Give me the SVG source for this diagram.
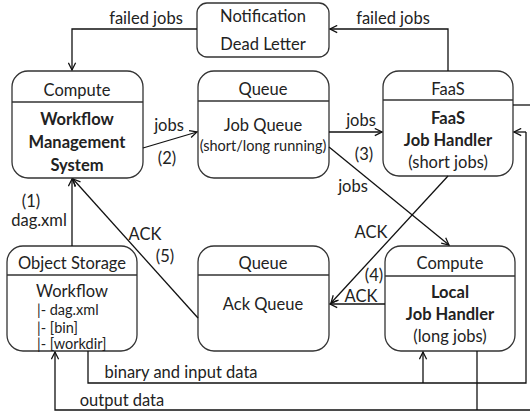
<svg xmlns="http://www.w3.org/2000/svg" width="530" height="415" viewBox="0 0 530 415">
<style>
.box{fill:#fff;stroke:#333;stroke-width:1.3}
.div{stroke:#333;stroke-width:1.3}
.ln{fill:none;stroke:#111;stroke-width:1.3;marker-end:url(#ah)}
.pl{fill:none;stroke:#111;stroke-width:1.3}
text{font-family:Lato,"Liberation Sans",sans-serif;font-size:16.5px;fill:#222;text-anchor:middle}
.b{font-weight:bold}
.s{font-size:14.5px}
.l{text-anchor:start}
</style>
<defs>
<marker id="ah" viewBox="0 0 10 10" refX="9" refY="5" markerWidth="9" markerHeight="9" markerUnits="userSpaceOnUse" orient="auto">
<path d="M1,1 L9,5 L1,9" fill="none" stroke="#111" stroke-width="1.4"/>
</marker>
</defs>
<g id="notification">
<rect class="box" x="197" y="3" width="132" height="54" rx="10"/>
<text x="263" y="22">Notification</text>
<text x="263" y="50">Dead Letter</text>
</g>
<g id="wms">
<rect class="box" x="12" y="71" width="131" height="107" rx="16"/>
<line class="div" x1="12" y1="102" x2="143" y2="102"/>
<text x="77" y="96">Compute</text>
<text class="b" x="77" y="125">Workflow</text>
<text class="b" x="77" y="148">Management</text>
<text class="b" x="77" y="171">System</text>
</g>
<g id="jobqueue">
<rect class="box" x="198" y="71" width="131" height="107" rx="16"/>
<line class="div" x1="198" y1="101" x2="329" y2="101"/>
<text x="263" y="95">Queue</text>
<text x="263" y="131">Job Queue</text>
<text class="s" x="263" y="151">(short/long running)</text>
</g>
<g id="faas">
<rect class="box" x="383" y="71" width="130" height="105" rx="16"/>
<line class="div" x1="383" y1="100" x2="513" y2="100"/>
<text x="448" y="95">FaaS</text>
<text class="b" x="448" y="124">FaaS</text>
<text class="b" x="448" y="146">Job Handler</text>
<text x="448" y="168">(short jobs)</text>
</g>
<g id="objectstorage">
<rect class="box" x="7" y="246" width="130" height="105" rx="16"/>
<line class="div" x1="7" y1="275" x2="137" y2="275"/>
<text x="72" y="269">Object Storage</text>
<text x="72" y="297">Workflow</text>
<text class="s l" x="37" y="315">|- dag.xml</text>
<text class="s l" x="37" y="333">|- [bin]</text>
<text class="s l" x="37" y="349">|- [workdir]</text>
</g>
<g id="ackqueue">
<rect class="box" x="198" y="246" width="131" height="105" rx="16"/>
<line class="div" x1="198" y1="275" x2="329" y2="275"/>
<text x="263" y="269">Queue</text>
<text x="263" y="310">Ack Queue</text>
</g>
<g id="local">
<rect class="box" x="385" y="246" width="130" height="105" rx="16"/>
<line class="div" x1="385" y1="276" x2="515" y2="276"/>
<text x="450" y="269">Compute</text>
<text class="b" x="450" y="298">Local</text>
<text class="b" x="450" y="320">Job Handler</text>
<text x="450" y="342">(long jobs)</text>
</g>
<g id="connectors">
<polyline class="ln" points="197,29 72,29 72,70"/>
<polyline class="ln" points="448,71 448,29 330,29"/>
<line class="ln" x1="143" y1="148" x2="197" y2="132"/>
<line class="ln" x1="329" y1="132" x2="382" y2="132"/>
<line class="ln" x1="329" y1="147" x2="449" y2="245"/>
<line class="ln" x1="448" y1="176" x2="331" y2="303"/>
<line class="ln" x1="385" y1="304" x2="330" y2="304"/>
<line class="ln" x1="198" y1="318" x2="73" y2="179"/>
<line class="ln" x1="72" y1="246" x2="72" y2="179"/>
<polyline class="pl" points="88,351 88,383 526,383 526,132"/>
<line class="ln" x1="526" y1="132" x2="514" y2="132"/>
<line class="ln" x1="423" y1="383" x2="423" y2="352"/>
<line class="pl" x1="513" y1="105" x2="530" y2="105"/>
<polyline class="ln" points="530,410 55,410 55,352"/>
<line class="pl" x1="477" y1="351" x2="477" y2="410"/>
<text x="146" y="24">failed jobs</text>
<text x="393" y="24">failed jobs</text>
<text x="169" y="131">jobs</text>
<text x="167" y="164">(2)</text>
<text x="361" y="126">jobs</text>
<text x="364" y="160">(3)</text>
<text x="353" y="192">jobs</text>
<text x="371" y="238">ACK</text>
<text x="374" y="281">(4)</text>
<text x="361" y="302">ACK</text>
<text x="31" y="207">(1)</text>
<text x="39" y="226">dag.xml</text>
<text x="145" y="240">ACK</text>
<text x="165" y="262">(5)</text>
<text x="181" y="378">binary and input data</text>
<text x="122" y="406">output data</text>
</g>
</svg>
